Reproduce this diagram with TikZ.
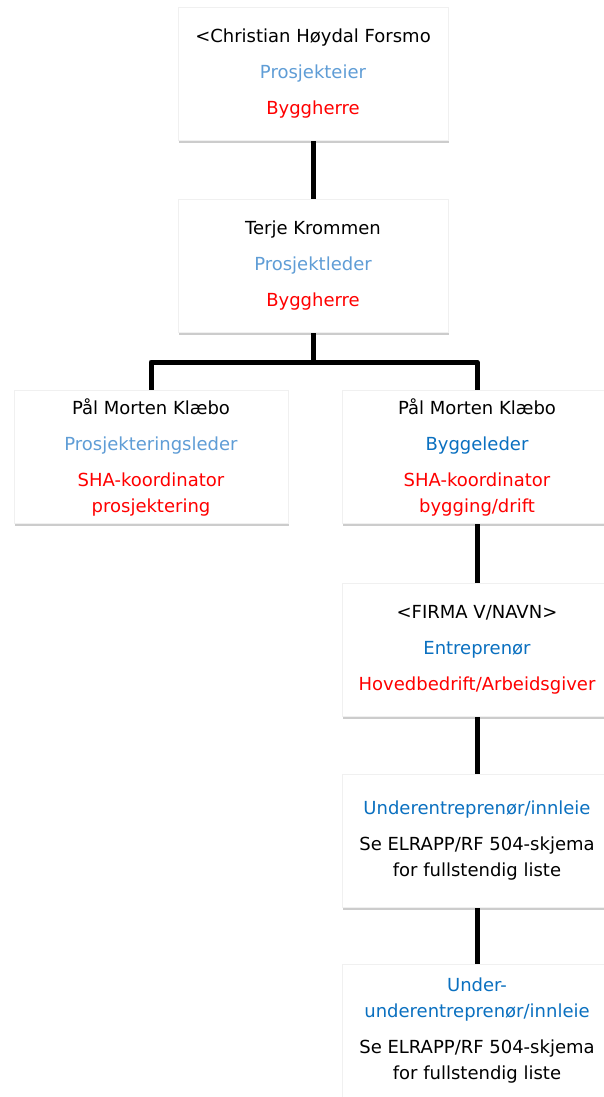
\documentclass[tikz,border=0pt]{standalone}
\usepackage{fontspec}
\setmainfont{DejaVu Sans}
\usepackage{xcolor}
\usetikzlibrary{
    positioning,
    calc,
    shadows,
    backgrounds
}
\definecolor{lysblaa}{RGB}{95, 157, 214}
\definecolor{moerkblaa}{RGB}{10, 112, 192}
\definecolor{shared}{RGB}{255, 0, 0}

\begin{document}
\begin{tikzpicture}[
        x=1pt, y=-1pt,
        rolle/.style={fill=white, draw=black!6, minimum width=270pt, minimum height=133pt, align=center, inner sep=0pt,
            font=\fontsize{18}{26}\selectfont,
            drop shadow={shadow xshift=1pt, shadow yshift=-2.5pt, fill=black, opacity=0.2}},
        linje/.style={line width=5pt, line join=round}
    ]
        \useasboundingbox (0,0) rectangle (603,1097);

        % Prosjekteier
        \node[rolle] (eier) at (313, 74) {
            <Christian Høydal Forsmo\\[10pt]
            \textcolor{lysblaa}{Prosjekteier}\\[10pt]
            \textcolor{shared}{Byggherre}
        };

        % Prosjektleder
        \node[rolle] (leder) at (313, 266) {
            Terje Krommen\\[10pt]
            \textcolor{lysblaa}{Prosjektleder}\\[10pt]
            \textcolor{shared}{Byggherre}
        };

        % Prosjektering
        \node[rolle, minimum width=274pt] (plan) at (151, 457) {
            Pål Morten Klæbo\\[10pt]
            \textcolor{lysblaa}{Prosjekteringsleder}\\[10pt]
            \textcolor{shared}{SHA-koordinator}\\
            \textcolor{shared}{prosjektering}
        };

        % Bygging
        \node[rolle] (bygg) at (477, 457) {
            Pål Morten Klæbo\\[10pt]
            \textcolor{moerkblaa}{Byggeleder}\\[10pt]
            \textcolor{shared}{SHA-koordinator}\\
            \textcolor{shared}{bygging/drift}
        };

        % Entreprenor
        \node[rolle] (entr) at (477, 650) {
            <FIRMA V/NAVN>\\[10pt]
            \textcolor{moerkblaa}{Entreprenør}\\[10pt]
            \textcolor{shared}{Hovedbedrift/Arbeidsgiver}
        };

        % Underentreprenor
        \node[rolle] (under) at (477, 841) {
            \textcolor{moerkblaa}{Underentreprenør/innleie}\\[10pt]
            Se ELRAPP/RF 504-skjema\\
            for fullstendig liste
        };

        % Under-underentreprenor
        \node[rolle] (uunder) at (477, 1031) {
            \textcolor{moerkblaa}{Under-}\\
            \textcolor{moerkblaa}{underentreprenør/innleie}\\[10pt]
            Se ELRAPP/RF 504-skjema\\
            for fullstendig liste
        };

        % Linjer
        \coordinate (delt) at (313, 362);
        \begin{scope}[on background layer]
            \draw[linje] (eier) -- (leder);
            \draw[linje] (leder) -- (delt);
            \draw[linje] (delt) -| (plan);
            \draw[linje] (delt) -| (bygg);
            \draw[linje] (bygg) -- (entr);
            \draw[linje] (entr) -- (under);
            \draw[linje] (under) -- (uunder);
        \end{scope}
    \end{tikzpicture}
\end{document}
